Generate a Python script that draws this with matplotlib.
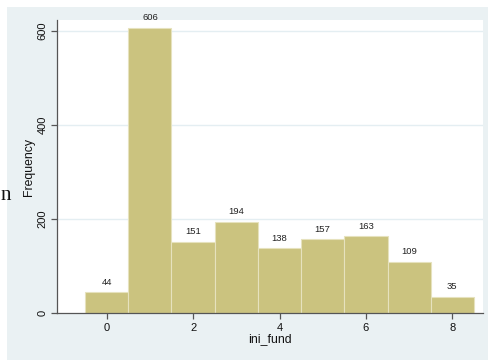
import matplotlib
matplotlib.use("Agg")
import matplotlib.pyplot as plt
from matplotlib.patches import Rectangle

values = [0, 1, 2, 3, 4, 5, 6, 7, 8]
counts = [44, 606, 151, 194, 138, 157, 163, 109, 35]
xticks = [0, 2, 4, 6, 8]
yticks = [0, 200, 400, 600]

W, H = 488, 360
plt.rcParams["font.family"] = ["Liberation Sans", "DejaVu Sans"]
fig = plt.figure(figsize=(W / 100, H / 100), dpi=100, facecolor="white")

bg = "#EAF1F3"
rect = Rectangle((7 / W, 0), 1 - 7 / W, 1 - 7 / H,
                 transform=fig.transFigure, facecolor=bg,
                 edgecolor="none", zorder=-10)
fig.add_artist(rect)

ax = fig.add_axes([57 / W, (H - 313) / H, (483 - 57) / W, (313 - 20) / H])
ax.set_zorder(1)
ax.set_facecolor("white")
ax.set_xlim(-1.15, 8.71)
ax.set_ylim(0, 622.7)

ax.bar(values, counts, width=1.0, color="#CBC37F", edgecolor="#E6E2BE",
       linewidth=0.8, zorder=2)
for v, c in zip(values, counts):
    ax.annotate(str(c), (v, c), xytext=(0, 4), textcoords="offset points",
                ha="center", va="bottom", fontsize=6.8, color="#222222")

for y in yticks[1:]:
    ax.axhline(y, color="#E4EEF2", linewidth=1.0, zorder=1)

for s in ["top", "right"]:
    ax.spines[s].set_visible(False)
for s in ["left", "bottom"]:
    ax.spines[s].set_color("#555555")
    ax.spines[s].set_linewidth(0.9)

ax.set_xticks(xticks)
ax.set_yticks(yticks)
ax.set_yticklabels([str(t) for t in yticks], rotation=90, va="center")
ax.tick_params(axis="both", direction="out", length=4, width=0.9,
               color="#555555", labelsize=8, labelcolor="#111111", pad=3)
ax.set_xlabel("ini_fund", fontsize=8.8, labelpad=0, color="#111111")
ax.set_ylabel("Frequency", fontsize=8.8, labelpad=2, color="#111111")

fig.text(0.3 / W, 1 - 200 / H, "n", family="Liberation Serif", fontsize=15,
         ha="left", va="baseline", color="#111111")

fig.savefig("out.png", dpi=100, facecolor="white")
